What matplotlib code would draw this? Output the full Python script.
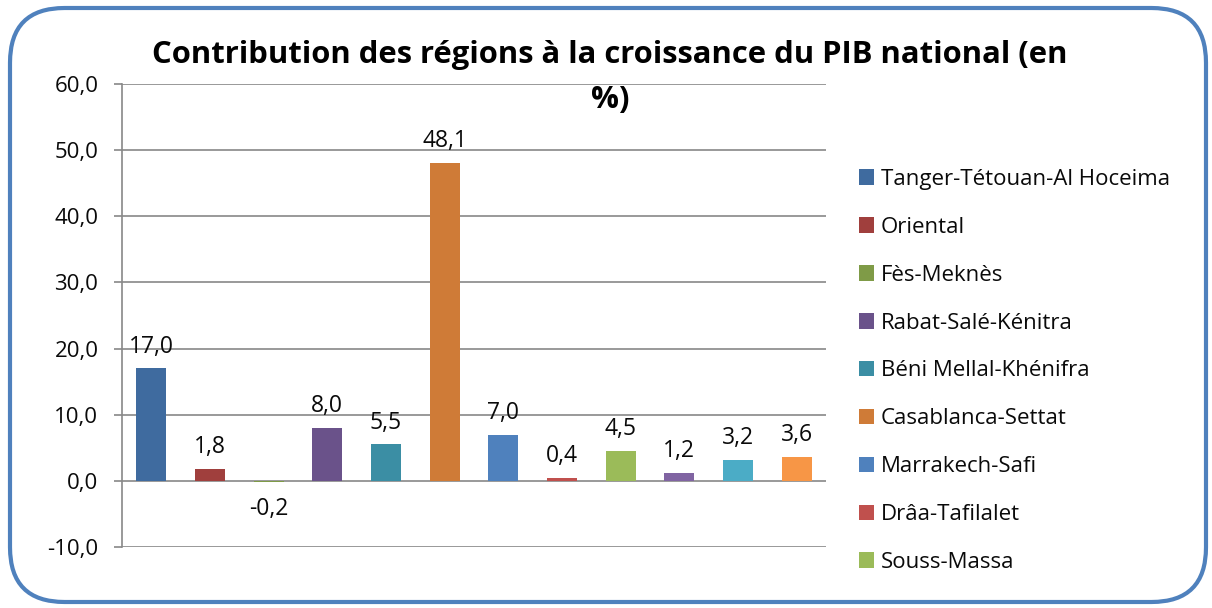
import matplotlib
matplotlib.use('Agg')
import matplotlib.pyplot as plt
from matplotlib.patches import FancyBboxPatch, Patch

# donnees
regions = ['Tanger-Tétouan-Al Hoceima', 'Oriental', 'Fès-Meknès', 'Rabat-Salé-Kénitra',
           'Béni Mellal-Khénifra', 'Casablanca-Settat', 'Marrakech-Safi', 'Drâa-Tafilalet',
           'Souss-Massa', 'Guelmim-Oued Noun', 'Laâyoune-Sakia El Hamra', 'Dakhla-Oued Ed-Dahab']
valeurs = [17.0, 1.8, -0.2, 8.0, 5.5, 48.1, 7.0, 0.4, 4.5, 1.2, 3.2, 3.6]
couleurs = ['#3F6B9F', '#A03F3D', '#7F9B47', '#6A528A', '#3B8EA4', '#CF7B37',
            '#4F81BD', '#C0504D', '#9BBB59', '#8064A2', '#4BACC6', '#F79646']
yticks = [-10, 0, 10, 20, 30, 40, 50, 60]
n_legende = 9  # Excel n'affiche que 9 entrees

plt.rcParams['font.family'] = ['Open Sans', 'DejaVu Sans']

fig = plt.figure(figsize=(12.12, 6.08), dpi=100)
fig.patch.set_facecolor('white')

# cadre arrondi bleu
cadre = FancyBboxPatch((10/1212, 6/608), 1196/1212, 594/608,
                       boxstyle='round,pad=0,rounding_size=0.045', transform=fig.transFigure,
                       facecolor='white', edgecolor='#4F81BD', linewidth=3, mutation_aspect=2.0,
                       zorder=-5)
fig.patches.append(cadre)

ax = fig.add_axes([122/1212, 1-547/608, (826-122)/1212, (547-84)/608])
ax.set_zorder(2)
ax.set_facecolor('none')
x = range(len(valeurs))
ax.bar(x, valeurs, width=0.51, color=couleurs, zorder=3)

for xi, v in zip(x, valeurs):
    lab = f'{v:.1f}'.replace('.', ',')
    if v >= 0:
        ax.annotate(lab, (xi, v), xytext=(0, 7), textcoords='offset points',
                    ha='center', va='bottom', fontsize=16.5, color='#0a0a0a')
    else:
        ax.annotate(lab, (xi, v), xytext=(0, -11), textcoords='offset points',
                    ha='center', va='top', fontsize=16.5, color='#0a0a0a')

ax.set_xlim(-0.5, len(valeurs) - 0.5)
ax.set_ylim(-10, 60)
ax.set_yticks(yticks)
ax.set_yticklabels([f'{t:.1f}'.replace('.', ',') for t in yticks], fontsize=16, color='#0a0a0a')
ax.tick_params(axis='y', length=6, color='#888888', width=1.2, pad=11)
ax.set_xticks([])
ax.grid(axis='y', color='#888888', linewidth=1.2, zorder=0)
for s in ['top', 'right', 'bottom']:
    ax.spines[s].set_visible(False)
ax.spines['left'].set_color('#888888')
ax.spines['left'].set_linewidth(1.2)

fig.text(610/1212, 1-55/608, 'Contribution des régions à la croissance du PIB national (en',
         ha='center', va='center', fontsize=22.3, fontweight='bold', zorder=5)
fig.text(610/1212, 1-100/608, '%)', ha='center', va='center', fontsize=22.3,
         fontweight='bold', zorder=5)

handles = [Patch(facecolor=c, edgecolor='none') for c in couleurs[:n_legende]]
leg = fig.legend(handles, regions[:n_legende], loc='upper left',
                 bbox_to_anchor=(850/1212, 1-160/608), frameon=False, fontsize=16,
                 handlelength=0.7, handleheight=0.7, handletextpad=0.3,
                 labelspacing=1.21, borderaxespad=0)
leg.set_zorder(5)
for t in leg.get_texts():
    t.set_color('#0a0a0a')

fig.savefig('out.png', dpi=100, facecolor='white')
